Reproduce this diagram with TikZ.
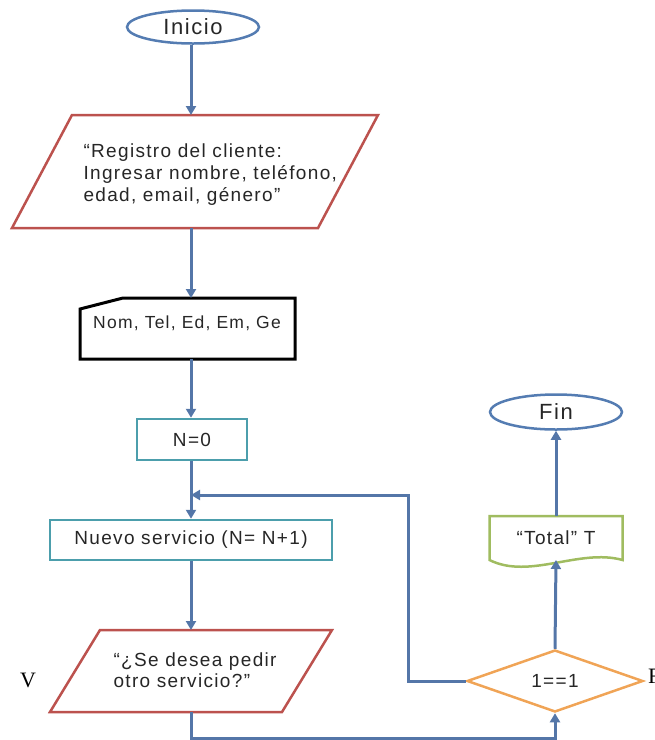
\documentclass[tikz,border=0pt]{standalone}
\usepackage{fontspec}
\setmainfont{Liberation Sans}[LetterSpace=7]
\newfontfamily\vffont{Liberation Serif}
\usepackage{tikz}
\usetikzlibrary{arrows.meta,positioning,calc,shapes.geometric}
\usepackage{xcolor}
\definecolor{linkblue}{RGB}{84,118,168}
\definecolor{termblue}{RGB}{84,124,178}
\definecolor{iored}{RGB}{188,82,78}
\definecolor{procteal}{RGB}{76,158,172}
\definecolor{docgreen}{RGB}{160,188,96}
\definecolor{decorange}{RGB}{240,164,86}

\begin{document}
\begin{tikzpicture}[
    x=1pt,y=-1pt,
    >={Triangle[length=9pt,width=10pt]},
    txt/.style={font=\fontsize{19}{22}\selectfont,text=black!85},
    term/.style={ellipse,draw=termblue,line width=2.5pt,minimum width=132pt,minimum height=33pt,inner sep=0pt,font=\fontsize{22}{24}\selectfont,text=black!85},
    area/.style={rectangle,draw=none,inner sep=0pt,outer sep=0pt},
    ioline/.style={draw=iored,line width=2.5pt,line join=miter},
    proc/.style={rectangle,draw=procteal,line width=2.5pt,inner sep=0pt,txt},
    dec/.style={diamond,draw=decorange,line width=2.5pt,inner sep=0pt,txt},
    flow/.style={->,draw=linkblue,line width=3pt}
]
\useasboundingbox (0,0) rectangle (655,740);

\node[term] (ini) at (193,27) {Inicio};

\node[area,minimum width=366pt,minimum height=113pt] (reg) at (195,171.5) {};
\draw[ioline] (reg.south west) -- ([xshift=60pt]reg.north west) -- (reg.north east) -- ([xshift=-60pt]reg.south east) -- cycle;
\node[txt,align=left,anchor=west] (regtxt) at (80,175) {“Registro del cliente:\\Ingresar nombre, teléfono,\\edad, email, género”};

\node[area,minimum width=215pt,minimum height=61pt] (nom) at (187.5,328.5) {};
\draw[line width=3pt,line join=miter] (nom.south west) -- ([yshift=-11pt]nom.north west) -- ([xshift=43pt]nom.north west) -- (nom.north east) -- (nom.south east) -- cycle;
\node[txt,font=\fontsize{17.5}{20}\selectfont] (nomtxt) at (187,323) {Nom, Tel, Ed, Em, Ge};

\node[proc,minimum width=110pt,minimum height=41pt] (n0) at (192,439.5) {N=0};
\node[proc,minimum width=282pt,minimum height=40pt] (nuevo) at (191,540) {Nuevo servicio (N= N+1)};

\node[area,minimum width=282pt,minimum height=82pt] (preg) at (191,671) {};
\draw[ioline] (preg.south west) -- ([xshift=50pt]preg.north west) -- (preg.north east) -- ([xshift=-50pt]preg.south east) -- cycle;
\node[txt,align=left,anchor=west,font=\fontsize{19}{21}\selectfont] (pregtxt) at (110,670) {“¿Se desea pedir\\otro servicio?”};

\node[dec,minimum width=176pt,minimum height=62pt] (dec) at (555,681) {1==1};

\node[area,txt,minimum width=133pt,minimum height=44pt] (tot) at (556,538) {“Total” T};
\draw[draw=docgreen,line width=2.5pt] (tot.south west) -- (tot.north west) -- (tot.north east) -- (tot.south east)
    .. controls ([xshift=-43pt,yshift=12pt]tot.south east) and ([xshift=40pt,yshift=-20pt]tot.south west) .. (tot.south west) -- cycle;

\node[term,minimum height=35pt] (fin) at (556,412) {Fin};

\node[font=\vffont\fontsize{22}{24}\selectfont] (vlab) at (28,680) {V};
\begin{scope}
\clip (0,0) rectangle (655,740);
\node[font=\vffont\fontsize{22}{24}\selectfont,anchor=west,inner sep=0pt] (flab) at (648,676) {F};
\end{scope}

\coordinate (join) at (191,495);
\coordinate (back) at (408,495);
\coordinate (low) at (191,738);

\draw[flow] (ini.south -| join) -- (reg.north -| join);
\draw[flow] (reg.south -| join) -- (nom.north -| join);
\draw[flow] (nom.south -| join) -- (n0.north -| join);
\draw[flow] (n0.south -| join) -- (nuevo.north -| join);
\draw[flow] (nuevo.south -| join) -- (preg.north -| join);
\draw[flow] (preg.south -| join) -- (low) -| (dec.south);
\draw[flow] (dec.north) -- (tot.south);
\draw[flow] (tot.north) -- (fin.south);
\draw[flow] (dec.west) -| (back) -- (join);
\end{tikzpicture}
\end{document}
